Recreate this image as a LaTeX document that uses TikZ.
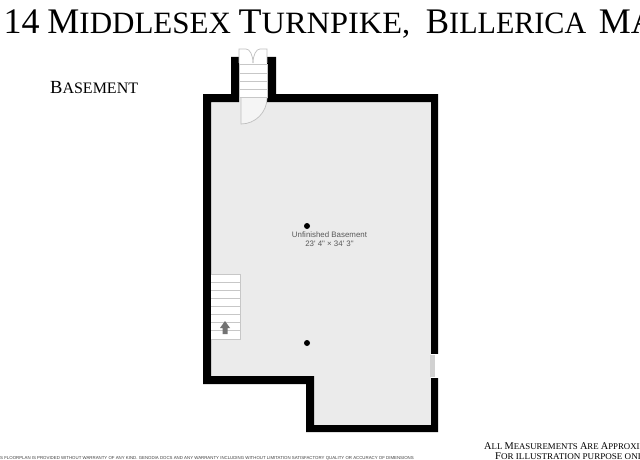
\documentclass[tikz,border=0pt]{standalone}
\usepackage{graphicx}
\usepackage{fontspec}
\setmainfont{Liberation Serif}
\newfontfamily\plansans{Liberation Sans}
\newcommand{\capword}[2]{{\fontsize{\capsize}{\capsize}\selectfont #1}#2}
\tikzset{
  wall/.style={fill=black,draw=none},
  tread/.style={draw=black!22,line width=0.8pt},
  leaf/.style={draw=black!25,line width=0.7pt},
  heading/.style={anchor=base west,inner sep=0pt,font=\def\capsize{36}\fontsize{31}{31}\selectfont},
  caption/.style={anchor=base west,inner sep=0pt,font=\def\capsize{18.5}\fontsize{16}{16}\selectfont},
  notetext/.style={anchor=base west,inner sep=0pt,font=\def\capsize{10.3}\fontsize{8.8}{8.8}\selectfont},
  roomtext/.style={inner sep=0pt,align=center,text=black!65,font=\plansans\fontsize{7.9}{9.4}\selectfont},
  finetext/.style={anchor=base west,inner sep=0pt,text=black!75,font=\plansans\fontsize{4.35}{5}\selectfont}
}
\begin{document}
\begin{tikzpicture}[x=1pt,y=-1pt]
\useasboundingbox (0,0) rectangle (640,460);
\clip (0,0) rectangle (640,460);
\fill[white] (0,0) rectangle (640,460);
% floor
\fill[black!8] (206,98) -- (434,98) -- (434,428) -- (310,428) -- (310,380) -- (206,380) -- cycle;
% outer wall
\fill[wall,even odd rule] (203,94) -- (231,94) -- (231,57) -- (276,57) -- (276,94) -- (438,94) -- (438,432)
  -- (306,432) -- (306,384) -- (203,384) -- cycle
  (211,102) -- (239,102) -- (239,57) -- (267,57) -- (267,102) -- (431,102) -- (431,425)
  -- (314,425) -- (314,376) -- (211,376) -- cycle;
% window
\fill[white] (431,354) rectangle (440,378);
\fill[black!18] (430,355) rectangle (435,377);
% entry stair
\fill[white] (239,64) rectangle (267,98);
\draw[tread] (239,64) rectangle (267,97);
\draw[tread] (239,73) -- (267,73);
\draw[tread] (239,81) -- (267,81);
\draw[tread] (239,89) -- (267,89);
% entry doors
\fill[white] (239,49) rectangle (267,63.5);
\draw[leaf] (239,63) -- (239,49) -- (246,49) arc (-90:0:7 and 14);
\draw[leaf] (267,63) -- (267,49) -- (260,49) arc (-90:-180:7 and 14);
\fill[black!4] (241,98) -- (267,98) arc (0:90:26 and 26) -- cycle;
\draw[leaf] (267,98) arc (0:90:26 and 26) -- (241,98);
% basement stair
\fill[white] (211,274) rectangle (240,339);
\draw[tread] (211,274) -- (240,274) -- (240,339) -- (211,339);
\draw[tread] (211,282) -- (240,282);
\draw[tread] (211,290) -- (240,290);
\draw[tread] (211,298) -- (240,298);
\draw[tread] (211,306) -- (240,306);
\draw[tread] (211,314) -- (240,314);
\draw[tread] (211,322) -- (240,322);
\draw[tread] (211,330) -- (240,330);
\fill[black!55] (225,321) -- (230,328) -- (227.5,328) -- (227.5,334) -- (222.5,334) -- (222.5,328) -- (220,328) -- cycle;
% columns
\fill (307,226) circle (3);
\fill (307,343) circle (3);
% texts
\node[heading] (title) at (3.5,34) {\capword{14}{} \capword{M}{IDDLESEX} \scalebox{1.045}[1]{\capword{T}{URNPIKE,}}\hspace{8pt} \scalebox{0.97}[1]{\capword{B}{ILLERICA}}\hspace{5pt} \capword{MA}{}};
\node[caption] (floorname) at (50,93) {\capword{B}{ASEMENT}};
\node[roomtext] (room) at (329.5,239) {Unfinished Basement\\23' 4" × 34' 3"};
\node[finetext] (disclaimer) at (0,459.5) {S FLOORPLAN IS PROVIDED WITHOUT WARRANTY OF ANY KIND. GENODIA DOCS AND ANY WARRANTY INCLUDING WITHOUT LIMITATION SATISFACTORY QUALITY OR ACCURACY OF DIMENSIONS};
\node[notetext] (note1) at (484,449) {\capword{A}{LL} \capword{M}{EASUREMENTS} \capword{A}{RE} \capword{A}{PPROXIMATE}};
\node[notetext] (note2) at (495,459.5) {\scalebox{1.03}[1]{\capword{F}{OR ILLUSTRATION PURPOSE ONLY}}};
\end{tikzpicture}
\end{document}
